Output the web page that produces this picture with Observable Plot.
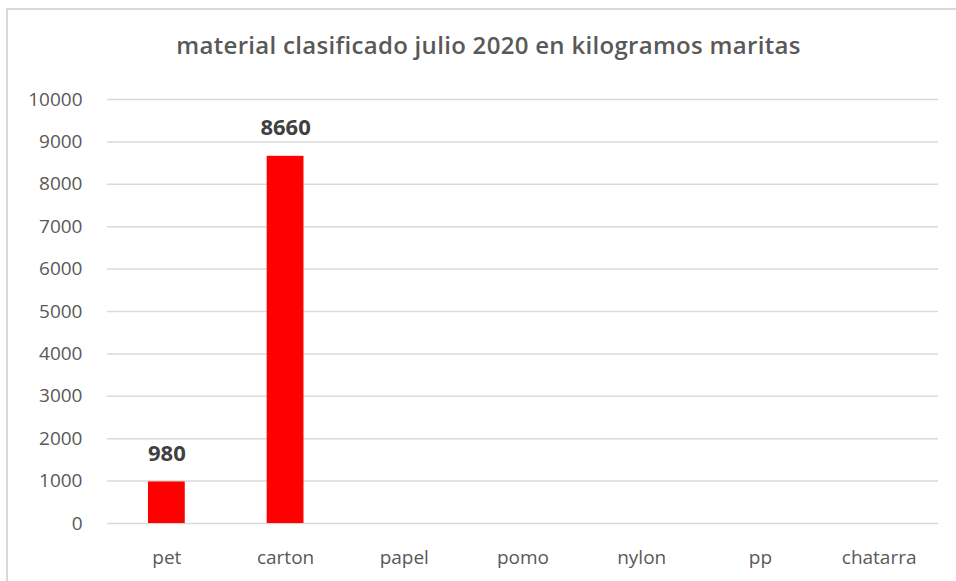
<!DOCTYPE html>
<html><head><meta charset="utf-8">
<script src="https://cdn.jsdelivr.net/npm/d3@7"></script>
<script src="https://cdn.jsdelivr.net/npm/@observablehq/plot@0.6"></script>
<style>
html,body{margin:0;padding:0;background:#fff;width:956px;height:581px;overflow:hidden;position:relative;font-family:"Open Sans","Liberation Sans",sans-serif;}
#frame{position:absolute;left:6px;top:8px;width:980px;height:620px;border:2px solid #d9d9d9;box-sizing:border-box;}
#title{position:absolute;left:0;top:30px;width:977px;text-align:center;font-size:24px;letter-spacing:0.3px;line-height:30px;color:#595959;font-weight:600;}
#chart{position:absolute;left:0;top:78px;}
</style></head>
<body>
<div id="frame"></div>
<div id="title">material clasificado julio 2020 en kilogramos maritas</div>
<div id="chart"></div>
<script>
const categories = ["pet","carton","papel","pomo","nylon","pp","chatarra"];
const values = [980, 8660, 0, 0, 0, 0, 0];
const yTicks = [0,1000,2000,3000,4000,5000,6000,7000,8000,9000,10000];

const data = categories.map((c,i)=>({cat:c, val:values[i]}));

const chart = Plot.plot({
  width: 956,
  height: 503,
  marginLeft: 107,
  marginRight: 18,
  marginTop: 21,
  marginBottom: 58,
  style: {fontFamily: "'Open Sans', 'Liberation Sans', sans-serif", fontSize: "19px", color: "#595959", background: "transparent"},
  x: {domain: categories, paddingInner: 0.69, paddingOuter: 0.345, round: false, label: null},
  y: {domain: [0, 10000], label: null},
  marks: [
    Plot.gridY(yTicks, {stroke: "#d9d9d9", strokeOpacity: 1, strokeWidth: 1.5}),
    Plot.barY(data, {x: "cat", y: "val", fill: "#ff0000"}),
    Plot.axisY(yTicks, {tickSize: 0, tickPadding: 25, fontSize: 19, fill: "#595959", label: null, tickFormat: d => String(d)}),
    Plot.axisX({tickSize: 0, tickPadding: 27, fontSize: 19, fill: "#595959", label: null}),
    Plot.text(data.filter(d => d.val > 0), {x: "cat", y: "val", text: d => String(d.val), dy: -21, lineAnchor: "bottom", fontSize: 22, fontWeight: "bold", fill: "#404040", letterSpacing: 1})
  ]
});
document.getElementById("chart").appendChild(chart);
</script>
</body></html>
